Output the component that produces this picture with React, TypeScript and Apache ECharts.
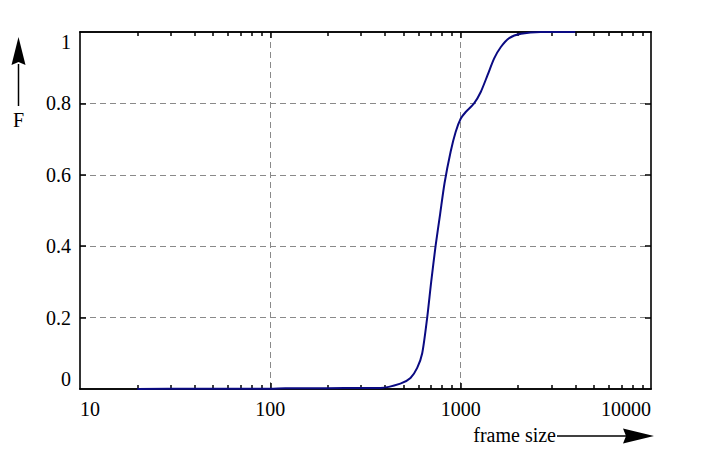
import React, { useEffect, useRef } from 'react';
import * as echarts from 'echarts';

// CDF of frame sizes
const frameSizes = [
  20, 40, 60, 100, 120, 200, 300, 378, 482, 545, 591, 628, 667, 700, 738, 780, 823, 885,
  941, 1000, 1063, 1176, 1275, 1384, 1500, 1626, 1799, 2073, 2630, 4000,
];
const cdfValues = [
  0, 0.001, 0.001, 0.001, 0.002, 0.002, 0.003, 0.003, 0.015, 0.031, 0.059, 0.1, 0.2, 0.3, 0.4,
  0.49, 0.577, 0.664, 0.72, 0.757, 0.776, 0.8, 0.832, 0.879, 0.926, 0.958, 0.983, 0.995, 1.0, 1.0,
];

// tick positions
const labelX = [10, 100, 1000, 10000];
const majorX = [100, 1000];
const minorX = [
  20, 30, 40, 50, 60, 70, 80, 90, 200, 300, 400, 500, 600, 700, 800, 900, 2000, 3000, 4000,
  5000, 6000, 7000, 8000, 9000,
];
const innerY = [0.2, 0.4, 0.6, 0.8];

const FONT = 'Liberation Serif';

const App: React.FC = () => {
  const chartRef = useRef<HTMLDivElement>(null);

  useEffect(() => {
    document.body.style.margin = '0';
    if (!chartRef.current) return;
    const chart = echarts.init(chartRef.current, undefined, { renderer: 'svg' });

    const dashed = () => ({ color: '#8a8a8a', width: 1, type: [6, 4] });
    const frameLine = () => ({ show: true, lineStyle: { color: '#000', width: 1.6 } });

    const logAxis = (position: 'top' | 'bottom', ticks: number[], len: number) => ({
      type: 'log',
      min: 10,
      max: 10000,
      position,
      axisLine: frameLine(),
      axisTick: {
        show: true,
        inside: true,
        length: len,
        lineStyle: { color: '#000', width: 1.5 },
        customValues: ticks,
      },
      axisLabel: { show: false },
      splitLine: { show: false },
    });
    const valueAxis = (position: 'left' | 'right') => ({
      type: 'value',
      min: 0,
      max: 1,
      interval: 0.2,
      position,
      axisLine: frameLine(),
      axisTick: {
        show: true,
        inside: true,
        length: 6,
        lineStyle: { color: '#000', width: 1.5 },
        customValues: innerY,
      },
      axisLabel: { show: false },
      splitLine: { show: false },
    });

    chart.setOption({
      animation: false,
      grid: { left: 80, right: 51, top: 32, bottom: 66 },
      xAxis: [
        {
          ...logAxis('bottom', majorX, 6),
          axisLabel: {
            show: true,
            customValues: labelX,
            margin: 10,
            fontFamily: FONT,
            fontSize: 20,
            color: '#000',
            formatter: (v: number) => String(v),
            alignMinLabel: 'left',
            alignMaxLabel: 'right',
          },
          splitLine: { show: true, lineStyle: dashed() },
        },
        logAxis('bottom', minorX, 4),
        logAxis('top', majorX, 6),
        logAxis('top', minorX, 4),
      ],
      yAxis: [
        {
          ...valueAxis('left'),
          axisLabel: {
            show: true,
            margin: 9,
            fontFamily: FONT,
            fontSize: 20,
            color: '#000',
            verticalAlignMinLabel: 'bottom',
            verticalAlignMaxLabel: 'top',
          },
          splitLine: { show: true, lineStyle: dashed() },
        },
        valueAxis('right'),
      ],
      series: [
        {
          type: 'line',
          xAxisIndex: 0,
          yAxisIndex: 0,
          data: frameSizes.map((s, i) => [s, cdfValues[i]]),
          showSymbol: false,
          smooth: 0.25,
          lineStyle: { color: '#0a0a82', width: 2 },
        },
      ],
      graphic: [
        {
          type: 'line',
          shape: { x1: 18.5, y1: 64, x2: 18.5, y2: 106 },
          style: { stroke: '#000', lineWidth: 1.5 },
        },
        {
          type: 'polygon',
          shape: { points: [[18.5, 37], [11.5, 65], [18.5, 62], [25.5, 65]] },
          style: { fill: '#000' },
        },
        {
          type: 'text',
          x: 18.5,
          y: 120,
          style: {
            text: 'F',
            fontFamily: FONT,
            fontSize: 20,
            fill: '#000',
            align: 'center',
            verticalAlign: 'middle',
          },
        },
        {
          type: 'text',
          x: 556,
          y: 435,
          style: {
            text: 'frame size',
            fontFamily: FONT,
            fontSize: 20,
            fill: '#000',
            align: 'right',
            verticalAlign: 'middle',
          },
        },
        {
          type: 'line',
          shape: { x1: 557, y1: 436, x2: 626, y2: 436 },
          style: { stroke: '#000', lineWidth: 1.5 },
        },
        {
          type: 'polygon',
          shape: { points: [[654, 436], [623, 428.5], [626, 436], [623, 443.5]] },
          style: { fill: '#000' },
        },
      ],
    });

    return () => {
      chart.dispose();
    };
  }, []);

  return <div ref={chartRef} style={{ width: '702px', height: '455px' }}></div>;
};

export default App;
